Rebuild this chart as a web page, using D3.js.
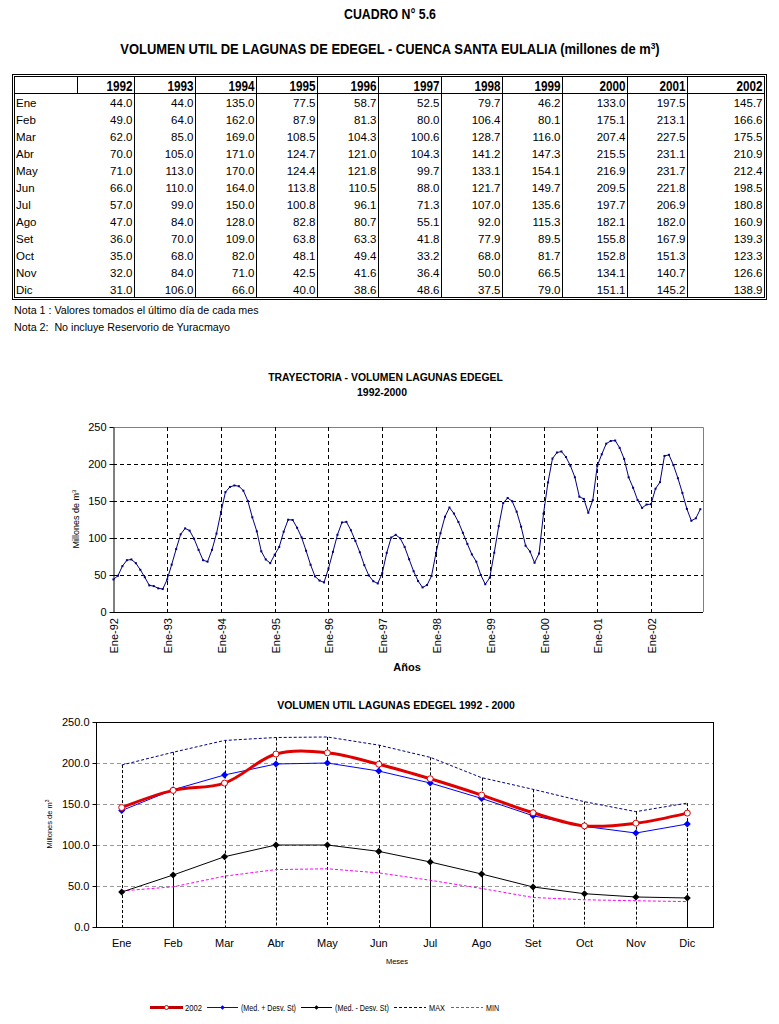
<!DOCTYPE html>
<html><head><meta charset="utf-8">
<script src="https://cdn.jsdelivr.net/npm/d3@7"></script>
<style>body{margin:0;background:#fff} svg{display:block}</style>
</head><body>
<svg id="c" width="779" height="1024"></svg>
<script>
// ---------- DATA ----------
const years = ["1992","1993","1994","1995","1996","1997","1998","1999","2000","2001","2002"];
const months = ["Ene","Feb","Mar","Abr","May","Jun","Jul","Ago","Set","Oct","Nov","Dic"];
const v1992 = [44.0,49.0,62.0,70.0,71.0,66.0,57.0,47.0,36.0,35.0,32.0,31.0];
const v1993 = [44.0,64.0,85.0,105.0,113.0,110.0,99.0,84.0,70.0,68.0,84.0,106.0];
const v1994 = [135.0,162.0,169.0,171.0,170.0,164.0,150.0,128.0,109.0,82.0,71.0,66.0];
const v1995 = [77.5,87.9,108.5,124.7,124.4,113.8,100.8,82.8,63.8,48.1,42.5,40.0];
const v1996 = [58.7,81.3,104.3,121.0,121.8,110.5,96.1,80.7,63.3,49.4,41.6,38.6];
const v1997 = [52.5,80.0,100.6,104.3,99.7,88.0,71.3,55.1,41.8,33.2,36.4,48.6];
const v1998 = [79.7,106.4,128.7,141.2,133.1,121.7,107.0,92.0,77.9,68.0,50.0,37.5];
const v1999 = [46.2,80.1,116.0,147.3,154.1,149.7,135.6,115.3,89.5,81.7,66.5,79.0];
const v2000 = [133.0,175.1,207.4,215.5,216.9,209.5,197.7,182.1,155.8,152.8,134.1,151.1];
const v2001 = [197.5,213.1,227.5,231.1,231.7,221.8,206.9,182.0,167.9,151.3,140.7,145.2];
const v2002 = [145.7,166.6,175.5,210.9,212.4,198.5,180.8,160.9,139.3,123.3,126.6,138.9];
const yearValues = [v1992,v1993,v1994,v1995,v1996,v1997,v1998,v1999,v2000,v2001,v2002];

// chart 2 series
const medPlus  = [142.0,167.4,185.4,198.8,200.0,190.2,175.6,156.8,135.7,122.7,114.6,125.6];
const medMinus = [42.6,63.4,85.7,100.0,100.0,92.2,79.3,64.6,48.8,40.6,36.6,35.4];
const maxVals  = [197.5,213.1,227.5,231.1,231.7,221.8,206.9,182.1,167.9,152.8,140.7,151.1];
const minVals  = [44.0,49.0,62.0,70.0,71.0,66.0,57.0,47.0,36.0,33.2,32.0,31.0];
const series2002 = v2002;
// months whose drop line is solid below the (Med. - Desv. St) point
const solidDropMonths = ["Feb","Jul","Ago","Dic"];

const c1Ticks = [0,50,100,150,200,250];
const c2Ticks = [0,50,100,150,200,250];
const c1XLabels = ["Ene-92","Ene-93","Ene-94","Ene-95","Ene-96","Ene-97","Ene-98","Ene-99","Ene-00","Ene-01","Ene-02"];
const legendLabels = ["2002","(Med. + Desv. St)","(Med. - Desv. St)","MAX","MIN"];

// ---------- DRAW ----------
const svg = d3.select("#c");
const ARIAL = "'Liberation Sans',Arial,sans-serif";

// text squeezed horizontally to a target width (emulates a narrow face)
function fitText(parent, x, y, anchor, width, size, bold, build){
  const g = parent.append("g");
  const t = g.append("text").attr("text-anchor",anchor)
    .style("font-family",ARIAL).style("font-size",size+"px").style("font-weight",bold?"bold":"normal");
  build(t);
  const w = t.node().getComputedTextLength();
  g.attr("transform",`translate(${x},${y}) scale(${width/w},1)`);
  return g;
}

// Titles
fitText(svg,390,19,"middle",92,14,true,t=>t.text("CUADRO N° 5.6"));
fitText(svg,390,54,"middle",540,14,true,t=>{
  t.append("tspan").text("VOLUMEN UTIL DE LAGUNAS DE EDEGEL - CUENCA SANTA EULALIA (millones de m");
  t.append("tspan").attr("dy",-5).style("font-size","9px").text("3");
  t.append("tspan").attr("dy",5).text(")");
});

// Table
const colEdges = [14.5,77.5,134.5,195.5,256.5,317.5,378.5,441.5,502.5,562.5,627.5,687.5,764.5];
const tTop = 76.5, rowH = 17;
const tb = svg.append("g");
tb.append("rect").attr("x",12.5).attr("y",74.5).attr("width",754).attr("height",225)
  .attr("fill","none").attr("stroke","#000");
tb.append("rect").attr("x",14.5).attr("y",76.5).attr("width",750).attr("height",221)
  .attr("fill","none").attr("stroke","#000");
tb.append("line").attr("x1",14.5).attr("x2",764.5).attr("y1",tTop+rowH).attr("y2",tTop+rowH).attr("stroke","#000");
tb.append("line").attr("x1",colEdges[1]).attr("x2",colEdges[1]).attr("y1",tTop).attr("y2",tTop+rowH).attr("stroke","#000");
for (let i=2;i<colEdges.length-1;i++){
  tb.append("line").attr("x1",colEdges[i]).attr("x2",colEdges[i]).attr("y1",tTop).attr("y2",297.5).attr("stroke","#000");
}
years.forEach((y,i)=>{
  fitText(tb,colEdges[i+2]-2,tTop+14,"end",26,14,true,t=>t.text(y));
});
months.forEach((m,r)=>{
  const yy = tTop+rowH*(r+1)+13;
  tb.append("text").attr("x",16).attr("y",yy).style("font-family",ARIAL).style("font-size","11.5px").text(m);
  yearValues.forEach((vals,i)=>{
    tb.append("text").attr("x",colEdges[i+2]-2).attr("y",yy).attr("text-anchor","end")
      .style("font-family",ARIAL).style("font-size","11.5px").text(vals[r].toFixed(1));
  });
});
svg.append("text").attr("x",14).attr("y",314).style("font-family",ARIAL).style("font-size","10.7px")
  .text("Nota 1 : Valores tomados el último día de cada mes");
svg.append("text").attr("x",14).attr("y",331).style("font-family",ARIAL).style("font-size","10.7px")
  .attr("xml:space","preserve").text("Nota 2:  No incluye Reservorio de Yuracmayo");

// ---------- Chart 1 ----------
const flat = [];
yearValues.forEach((vals,yi)=>vals.forEach((v,mi)=>flat.push({i:yi*12+mi,v})));
const c1 = {l:113,r:703,t:427,b:612};
const x1 = d3.scaleLinear().domain([-0.1,131.6]).range([c1.l,c1.r]);
const y1 = d3.scaleLinear().domain([0,250]).range([c1.b,c1.t]);
const g1 = svg.append("g");
fitText(g1,385.5,381,"middle",235,10,true,t=>t.text("TRAYECTORIA - VOLUMEN LAGUNAS EDEGEL"));
fitText(g1,382,396,"middle",50,10,true,t=>t.text("1992-2000"));
g1.append("path").attr("d",`M${c1.l},${c1.t+0.5}H${c1.r+0.5}V${c1.b}`).attr("fill","none").attr("stroke","#808080");
c1Ticks.filter(t=>t>0&&t<250).forEach(t=>{
  g1.append("line").attr("x1",c1.l).attr("x2",c1.r).attr("y1",Math.round(y1(t))+0.5).attr("y2",Math.round(y1(t))+0.5)
    .attr("stroke","#000").attr("stroke-dasharray","4,3");
});
c1XLabels.forEach((lab,k)=>{
  const xx = Math.round(x1(k*12))+0.5;
  if (k>0) g1.append("line").attr("x1",xx).attr("x2",xx).attr("y1",c1.t).attr("y2",c1.b)
    .attr("stroke","#000").attr("stroke-dasharray","4,3");
  g1.append("text").attr("transform",`translate(${xx+4},${c1.b+6}) rotate(-90)`).attr("text-anchor","end")
    .style("font-family",ARIAL).style("font-size","11px").text(lab);
});
const ax1 = d3.axisLeft(y1).tickValues(c1Ticks).tickSize(4).tickSizeOuter(0).tickFormat(d3.format("d"));
const ay = g1.append("g").attr("transform",`translate(${c1.l+0.5},0)`).call(ax1);
ay.selectAll("text").style("font-family",ARIAL).style("font-size","11px").attr("fill","#000");
ay.selectAll("line,path").attr("stroke","#000");
g1.append("line").attr("x1",c1.l).attr("x2",c1.r).attr("y1",c1.b+0.5).attr("y2",c1.b+0.5).attr("stroke","#000");
g1.append("path").datum(flat).attr("d",d3.line().x(d=>x1(d.i)).y(d=>y1(d.v)))
  .attr("fill","none").attr("stroke","#000080").attr("stroke-width",1);
g1.selectAll("rect.pt").data(flat).join("rect").attr("x",d=>x1(d.i)-1).attr("y",d=>y1(d.v)-1)
  .attr("width",2).attr("height",2).attr("fill","#000080");
const yt1 = g1.append("text").attr("transform","translate(79,519) rotate(-90)").attr("text-anchor","middle")
  .style("font-family",ARIAL).style("font-size","9px");
yt1.append("tspan").text("Millones de m");
yt1.append("tspan").attr("dy",-3).style("font-size","6px").text("3");
g1.append("text").attr("x",407).attr("y",671).attr("text-anchor","middle")
  .style("font-family",ARIAL).style("font-weight","bold").style("font-size","11px").text("Años");

// ---------- Chart 2 ----------
const c2 = {l:96,r:713,t:722,b:927};
const x2 = d3.scaleBand().domain(months).range([c2.l,c2.r]);
const cx = m=>x2(m)+x2.bandwidth()/2;
const y2 = d3.scaleLinear().domain([0,250]).range([c2.b,c2.t]);
const g2 = svg.append("g");
fitText(g2,396,709,"middle",238,10,true,t=>t.text("VOLUMEN UTIL LAGUNAS EDEGEL 1992 - 2000"));
c2Ticks.filter(t=>t>0&&t<250).forEach(t=>{
  g2.append("line").attr("x1",c2.l).attr("x2",c2.r).attr("y1",Math.round(y2(t))+0.5).attr("y2",Math.round(y2(t))+0.5)
    .attr("stroke","#999").attr("stroke-dasharray","4,3");
});
months.forEach((m,i)=>{
  const xx = Math.round(cx(m))+0.5;
  const solid = solidDropMonths.includes(m);
  const yBreak = solid ? y2(medMinus[i]) : c2.b;
  g2.append("line").attr("x1",xx).attr("x2",xx).attr("y1",y2(maxVals[i])).attr("y2",yBreak)
    .attr("stroke","#000").attr("stroke-dasharray","3,2");
  if (solid) g2.append("line").attr("x1",xx).attr("x2",xx).attr("y1",yBreak).attr("y2",c2.b).attr("stroke","#000");
});
g2.append("rect").attr("x",c2.l+0.5).attr("y",c2.t+0.5).attr("width",c2.r-c2.l).attr("height",c2.b-c2.t)
  .attr("fill","none").attr("stroke","#000");
const ax2 = d3.axisLeft(y2).tickValues(c2Ticks).tickSize(4).tickSizeOuter(0).tickFormat(d3.format(".1f"));
const ay2 = g2.append("g").attr("transform",`translate(${c2.l+0.5},0)`).call(ax2);
ay2.selectAll("text").style("font-family",ARIAL).style("font-size","11px").attr("fill","#000");
ay2.selectAll("line,path").attr("stroke","#000");
ay2.select("path").remove();
months.forEach(m=>{
  g2.append("text").attr("x",cx(m)).attr("y",947).attr("text-anchor","middle")
    .style("font-family",ARIAL).style("font-size","11px").text(m);
});
g2.append("text").attr("x",397).attr("y",964).attr("text-anchor","middle")
  .style("font-family",ARIAL).style("font-size","7.5px").text("Meses");
const yt2 = g2.append("text").attr("transform","translate(52,824) rotate(-90)").attr("text-anchor","middle")
  .style("font-family",ARIAL).style("font-size","7.5px");
yt2.append("tspan").text("Millones de m");
yt2.append("tspan").attr("dy",-3).style("font-size","5px").text("3");

const lineStraight = d3.line().x((d,i)=>cx(months[i])).y(d=>y2(d));
const lineSmooth = d3.line().x((d,i)=>cx(months[i])).y(d=>y2(d)).curve(d3.curveCatmullRom.alpha(0.5));
g2.append("path").datum(minVals).attr("d",lineStraight).attr("fill","none").attr("stroke","#ff00ff").attr("stroke-dasharray","3,2");
g2.append("path").datum(maxVals).attr("d",lineStraight).attr("fill","none").attr("stroke","#000080").attr("stroke-dasharray","3,2");
g2.append("path").datum(medMinus).attr("d",lineStraight).attr("fill","none").attr("stroke","#000");
g2.append("path").datum(medPlus).attr("d",lineStraight).attr("fill","none").attr("stroke","#0000ff");
g2.append("path").datum(series2002).attr("d",lineSmooth).attr("fill","none").attr("stroke","#e00000").attr("stroke-width",3);
const diamond = d3.symbol().type(d3.symbolDiamond2).size(32);
g2.selectAll("path.dm").data(medMinus).join("path").attr("d",diamond)
  .attr("transform",(d,i)=>`translate(${cx(months[i])},${y2(d)})`).attr("fill","#000");
g2.selectAll("path.dp").data(medPlus).join("path").attr("d",diamond)
  .attr("transform",(d,i)=>`translate(${cx(months[i])},${y2(d)})`).attr("fill","#0000ff");
g2.selectAll("circle.r").data(series2002).join("circle").attr("cx",(d,i)=>cx(months[i])).attr("cy",d=>y2(d))
  .attr("r",3).attr("fill","#fff").attr("stroke","#e00000").attr("stroke-width",1);

// legend
const lg = svg.append("g");
const ly = 1007.5;
const legendItems = [
  {x0:150,x1:183,stroke:"#c00000",w:3,dash:null,marker:"circle",tx:185,tw:17},
  {x0:207,x1:238,stroke:"#0000ff",w:1,dash:null,marker:"dp",tx:241,tw:55},
  {x0:301,x1:332,stroke:"#000",w:1,dash:null,marker:"dm",tx:335,tw:54},
  {x0:394,x1:426,stroke:"#000080",w:1,dash:"3,2",marker:null,tx:429,tw:16},
  {x0:451,x1:483,stroke:"#ff00ff",w:1,dash:"3,2",marker:null,tx:486,tw:13}
];
legendItems.forEach((it,k)=>{
  lg.append("line").attr("x1",it.x0).attr("x2",it.x1).attr("y1",ly).attr("y2",ly)
    .attr("stroke",it.stroke).attr("stroke-width",it.w).attr("stroke-dasharray",it.dash);
  const mx=(it.x0+it.x1)/2;
  if (it.marker==="circle") lg.append("circle").attr("cx",mx).attr("cy",ly).attr("r",2).attr("fill","#fff").attr("stroke","#e00000");
  if (it.marker==="dp") lg.append("path").attr("d",d3.symbol().type(d3.symbolDiamond2).size(14)).attr("transform",`translate(${mx},${ly})`).attr("fill","#0000ff");
  if (it.marker==="dm") lg.append("path").attr("d",d3.symbol().type(d3.symbolDiamond2).size(14)).attr("transform",`translate(${mx},${ly})`).attr("fill","#000");
  fitText(lg,it.tx,ly+3.5,"start",it.tw,9,false,t=>t.text(legendLabels[k]));
});
</script>
</body></html>
